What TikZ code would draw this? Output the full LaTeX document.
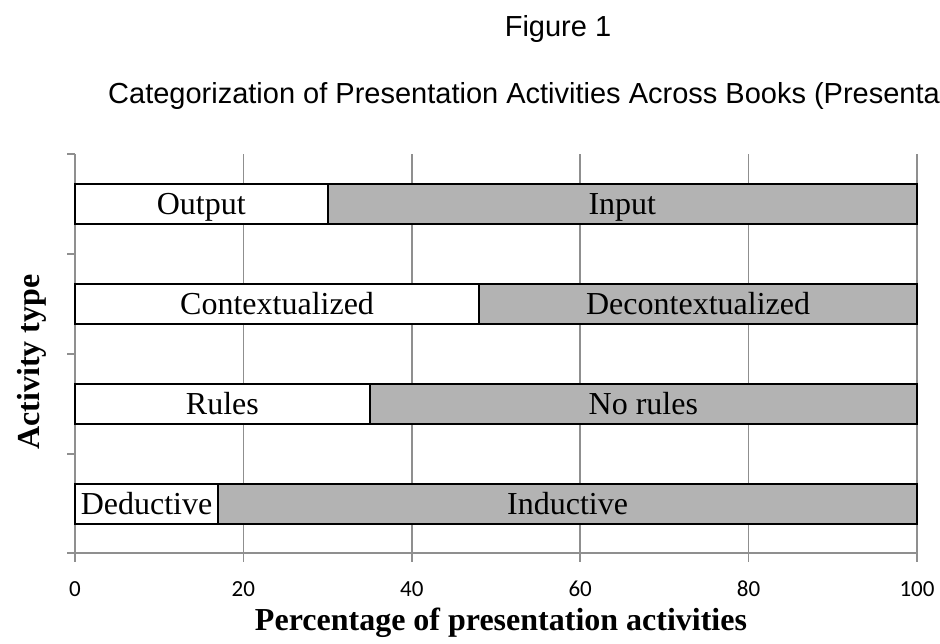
\documentclass[tikz,border=0pt]{standalone}
\usepackage{fontspec}
\setmainfont{Liberation Serif}
\newfontfamily\arialfont{Liberation Sans}
\newfontfamily\calibrifont{Carlito}
\definecolor{barfill}{HTML}{B3B3B3}
\definecolor{gridgray}{HTML}{8F8F8F}
\tikzset{
  gridline/.style = {gridgray, line width = 1.5pt},
  barlo/.style = {draw = black, fill = white, line width = 2pt},
  barhi/.style = {draw = black, fill = barfill, line width = 2pt},
  barlabel/.style = {font = \fontsize{32}{34}\selectfont, inner sep = 0pt,
                     text height = 21pt, text depth = 0pt},
  ticklabel/.style = {font = \calibrifont\fontsize{23}{26}\selectfont},
  titletext/.style = {font = \arialfont\fontsize{29}{32}\selectfont, inner sep = 0pt},
  axislabel/.style = {font = \bfseries\fontsize{32}{34}\selectfont, inner sep = 0pt},
}
\begin{document}
\begin{tikzpicture}[x = 1pt, y = -1pt]
        \path[use as bounding box, clip] (0, 0) rectangle (940, 643);
        \fill[white] (0, 0) rectangle (940, 643);

        % titles
        \node[titletext, anchor = base] (fig) at (558, 36) {Figure 1};
        \node[titletext, anchor = base west] (title) at (108, 103)
          {Categorization of Presentation Activities Across Books (Presenta};

        % grid and axes
        \foreach \p in {20, 40, 60, 80, 100}
          \draw[gridline] ({75 + 8.42*\p}, 154) -- ({75 + 8.42*\p}, 562);
        \foreach \y in {154, 254, 354, 454, 553}
          \draw[gridline] (67, \y) -- (75, \y);
        \coordinate (o) at (75, 553);
        \coordinate (ytop) at (75, 154);
        \coordinate (xend) at (917, 553);
        \draw[gridline] (ytop) -- (o) -- (xend);
        \draw[gridline] (o) -- (75, 562);

        \foreach \p in {0, 20, 40, 60, 80, 100}
          \node[ticklabel] (t\p) at ({75 + 8.42*\p}, 589) {\p};

        % bars
        \foreach \i/\s/\lo/\hi in {1/30/Output/Input, 2/48/Contextualized/Decontextualized,
                                   3/35/Rules/No rules, 4/17/Deductive/Inductive} {
          \pgfmathsetmacro{\c}{204 + 100*(\i - 1)}
          \pgfmathsetmacro{\m}{75 + 8.42*\s}
          \draw[barhi] (\m, \c - 20) rectangle node[barlabel] (hi\i) {\hi} (917, \c + 20);
          \draw[barlo] (75, \c - 20) rectangle node[barlabel] (lo\i) {\lo} (\m, \c + 20);
        }

        % axis labels
        \node[axislabel, rotate = 90] (ylab) at (32, 362) {Activity type};
        \node[axislabel, anchor = base] (xlab) at (501, 630)
          {Percentage of presentation activities};
      \end{tikzpicture}
\end{document}
